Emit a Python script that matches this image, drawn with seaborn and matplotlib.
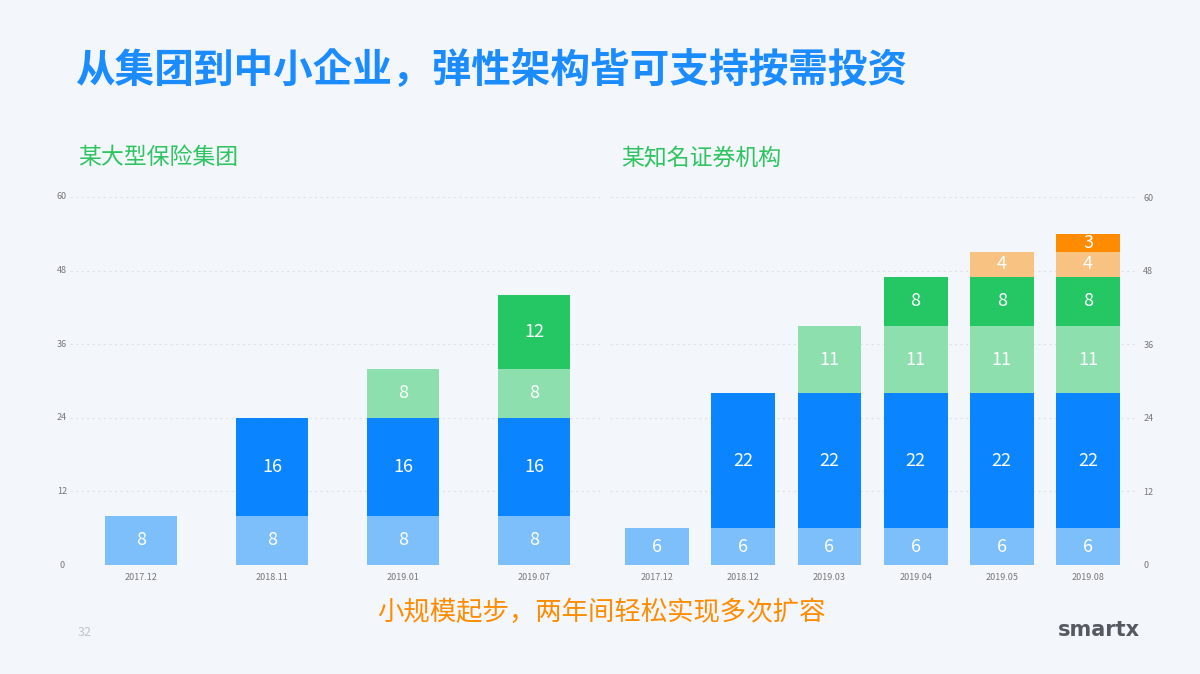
import matplotlib
matplotlib.use("Agg")
import matplotlib.pyplot as plt
from matplotlib import font_manager as fm
import seaborn as sns
import pandas as pd
import numpy as np

cjk = None
for f in fm.findSystemFonts():
    if "CJK" in f and ("SC" in f or "Regular" in f or f.endswith(".ttc")):
        cjk = f
        break
if cjk:
    fm.fontManager.addfont(cjk)
    cjk_name = fm.FontProperties(fname=cjk).get_name()
else:
    cjk_name = "Noto Sans CJK SC"
plt.rcParams["font.family"] = [cjk_name, "DejaVu Sans"]

left_cats = ["2017.12", "2018.11", "2019.01", "2019.07"]
left_layers = [
    [8, 8, 8, 8],
    [0, 16, 16, 16],
    [0, 0, 8, 8],
    [0, 0, 0, 12],
]
right_cats = ["2017.12", "2018.12", "2019.03", "2019.04", "2019.05", "2019.08"]
right_layers = [
    [6, 6, 6, 6, 6, 6],
    [0, 22, 22, 22, 22, 22],
    [0, 0, 11, 11, 11, 11],
    [0, 0, 0, 8, 8, 8],
    [0, 0, 0, 0, 4, 4],
    [0, 0, 0, 0, 0, 3],
]
colors = ["#7dbffa", "#0a84ff", "#8ddfae", "#25c764", "#f8c282", "#ff8c00"]
yticks = [0, 12, 24, 36, 48, 60]

W, H = 1200, 674
fig = plt.figure(figsize=(12, 6.74), dpi=100)
fig.patch.set_facecolor("#f3f6fb")

def px_axes(x0, x1, y0, y1):
    return fig.add_axes([x0 / W, 1 - y1 / H, (x1 - x0) / W, (y1 - y0) / H])

def draw(ax, cats, layers, width, xlim, right=False):
    ax.set_facecolor("none")
    bottom = np.zeros(len(cats))
    for i, vals in enumerate(layers):
        vals = np.array(vals, dtype=float)
        df = pd.DataFrame({"c": cats, "v": vals})
        sns.barplot(data=df, x="c", y="v", order=cats, color=colors[i],
                    width=width, bottom=bottom, ax=ax, saturation=1,
                    edgecolor="none")
        for j, v in enumerate(vals):
            if v > 0:
                ax.text(j, bottom[j] + v / 2, f"{int(v)}", ha="center", va="center",
                        color="white", fontsize=13)
        bottom += vals
    ax.set_xlim(*xlim)
    ax.set_ylim(0, 60)
    ax.set_yticks(yticks)
    ax.grid(axis="y", color="#dde3ea", linestyle=(0, (2, 3)), linewidth=0.8)
    ax.set_axisbelow(True)
    for s in ax.spines.values():
        s.set_visible(False)
    ax.tick_params(axis="both", length=0, labelsize=6.5, colors="#777777", pad=6)
    ax.set_xlabel("")
    ax.set_ylabel("")
    if right:
        ax.yaxis.tick_right()
    else:
        ax.set_yticklabels([])

axL = px_axes(70, 600, 197, 565)
draw(axL, left_cats, left_layers, 0.55, (-0.54, 3.5))
axR = px_axes(610, 1135, 197, 565)
draw(axR, right_cats, right_layers, 0.74, (-0.545, 5.545), right=True)

for t in yticks:
    fig.text(62 / W, 1 - (565 - t * 368 / 60) / H, str(t), ha="center", va="center",
             fontsize=6.5, color="#777777")

fig.text(75 / W, 1 - 70 / H, "从集团到中小企业，弹性架构皆可支持按需投资", fontsize=28.5,
         fontweight="bold", color="#1a8cff", va="center")
fig.text(78 / W, 1 - 158 / H, "某大型保险集团", fontsize=16.5, color="#2ec45f", va="center")
fig.text(621 / W, 1 - 158 / H, "某知名证券机构", fontsize=16.5, color="#2ec45f", va="center")
fig.text(601 / W, 1 - 612 / H, "小规模起步，两年间轻松实现多次扩容", fontsize=19,
         color="#ff8c00", ha="center", va="center")
fig.text(78 / W, 1 - 632 / H, "32", fontsize=9, color="#c0c6cf", va="center")
fig.text(1140 / W, 1 - 630 / H, "smartx", fontsize=15, fontweight="bold",
         color="#555a60", ha="right", va="center", family="DejaVu Sans")

fig.savefig("out.png", dpi=100, facecolor=fig.get_facecolor())
